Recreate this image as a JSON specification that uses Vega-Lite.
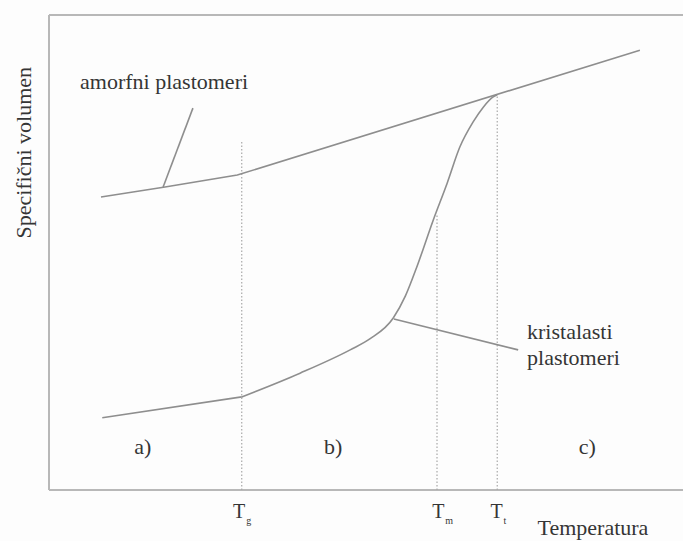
{
  "$schema": "https://vega.github.io/schema/vega-lite/v6.json",
  "width": 634,
  "height": 475,
  "autosize": {"type": "none"},
  "padding": {"left": 49, "top": 15, "right": 0, "bottom": 51},
  "background": "#fdfdfd",
  "config": {"view": {"stroke": null}, "text": {"font": "Liberation Serif", "color": "#353535"}},
  "datasets": {
    "straight": [
      {"series": "amorfni", "t": 8.2, "v": 61.7},
      {"series": "amorfni", "t": 18.3, "v": 63.8},
      {"series": "amorfni", "t": 29.7, "v": 66.3},
      {"series": "amorfni", "t": 93.2, "v": 92.6},
      {"series": "kristalasti_staklasto", "t": 8.4, "v": 15.2},
      {"series": "kristalasti_staklasto", "t": 30.4, "v": 19.6},
      {"series": "leader_a", "t": 18.0, "v": 63.8},
      {"series": "leader_a", "t": 22.7, "v": 80.4},
      {"series": "leader_k", "t": 54.4, "v": 36.0},
      {"series": "leader_k", "t": 74.0, "v": 29.5}
    ],
    "melt": [
      {"t": 30.4, "v": 19.6},
      {"t": 39.6, "v": 24.6},
      {"t": 47.5, "v": 29.5},
      {"t": 50.6, "v": 31.8},
      {"t": 54.3, "v": 36.2},
      {"t": 56.2, "v": 40.8},
      {"t": 58.0, "v": 46.9},
      {"t": 60.6, "v": 56.8},
      {"t": 62.8, "v": 64.6},
      {"t": 64.8, "v": 72.2},
      {"t": 66.9, "v": 77.5},
      {"t": 68.5, "v": 80.6},
      {"t": 70.0, "v": 82.7},
      {"t": 70.7, "v": 83.2}
    ],
    "verticals": [
      {"name": "Tg", "t": 30.4, "v0": 0, "v1": 73.3},
      {"name": "Tm", "t": 61.2, "v0": 0, "v1": 57.9},
      {"name": "Tt", "t": 70.7, "v0": 0, "v1": 83.2}
    ],
    "frame": [
      {"t0": 0, "t1": 100, "v0": 100, "v1": 100},
      {"t0": 0, "t1": 100, "v0": 0, "v1": 0},
      {"t0": 0, "t1": 0, "v0": 0, "v1": 100}
    ],
    "leftlabels": [
      {"label": "amorfni plastomeri", "t": 4.9, "v": 85.9},
      {"label": "kristalasti", "t": 75.4, "v": 33.3},
      {"label": "plastomeri", "t": 75.4, "v": 27.8}
    ],
    "centerlabels": [
      {"label": "a)", "t": 14.8, "v": 9.1},
      {"label": "b)", "t": 44.8, "v": 9.1},
      {"label": "c)", "t": 84.9, "v": 9.1},
      {"label": "Temperatura", "t": 85.8, "v": -8.0}
    ],
    "ticks": [
      {"label": "T", "t": 30.0, "v": -4.6},
      {"label": "T", "t": 61.4, "v": -4.6},
      {"label": "T", "t": 70.6, "v": -4.6}
    ],
    "subs": [
      {"label": "g", "t": 31.5, "v": -6.6},
      {"label": "m", "t": 63.1, "v": -6.6},
      {"label": "t", "t": 71.9, "v": -6.6}
    ],
    "ytitle": [
      {"label": "Specifični volumen", "t": -3.9, "v": 71.0}
    ]
  },
  "layer": [
    {
      "data": {"name": "frame"},
      "mark": {"type": "rule", "color": "#b8b8b8", "strokeWidth": 2},
      "encoding": {
        "x": {"field": "t0", "type": "quantitative", "scale": {"domain": [0, 100], "nice": false, "zero": false}, "axis": null},
        "x2": {"field": "t1"},
        "y": {"field": "v0", "type": "quantitative", "scale": {"domain": [0, 100], "nice": false, "zero": false}, "axis": null},
        "y2": {"field": "v1"}
      }
    },
    {
      "data": {"name": "verticals"},
      "mark": {"type": "rule", "color": "#a8a8a8", "strokeWidth": 1.2, "strokeDash": [1.5, 2]},
      "encoding": {
        "x": {"field": "t", "type": "quantitative"},
        "y": {"field": "v0", "type": "quantitative"},
        "y2": {"field": "v1"}
      }
    },
    {
      "data": {"name": "straight"},
      "mark": {"type": "line", "color": "#8e8e8e", "strokeWidth": 1.6},
      "encoding": {
        "x": {"field": "t", "type": "quantitative"},
        "y": {"field": "v", "type": "quantitative"},
        "detail": {"field": "series"},
        "order": {"field": "t"}
      }
    },
    {
      "data": {"name": "melt"},
      "mark": {"type": "line", "color": "#8e8e8e", "strokeWidth": 1.6, "interpolate": "monotone"},
      "encoding": {
        "x": {"field": "t", "type": "quantitative"},
        "y": {"field": "v", "type": "quantitative"},
        "order": {"field": "t"}
      }
    },
    {
      "data": {"name": "leftlabels"},
      "mark": {"type": "text", "fontSize": 22, "baseline": "middle", "align": "left"},
      "encoding": {
        "x": {"field": "t", "type": "quantitative"},
        "y": {"field": "v", "type": "quantitative"},
        "text": {"field": "label"}
      }
    },
    {
      "data": {"name": "centerlabels"},
      "mark": {"type": "text", "fontSize": 22, "baseline": "middle", "align": "center"},
      "encoding": {
        "x": {"field": "t", "type": "quantitative"},
        "y": {"field": "v", "type": "quantitative"},
        "text": {"field": "label"}
      }
    },
    {
      "data": {"name": "ticks"},
      "mark": {"type": "text", "fontSize": 20, "baseline": "middle", "align": "center"},
      "encoding": {
        "x": {"field": "t", "type": "quantitative"},
        "y": {"field": "v", "type": "quantitative"},
        "text": {"field": "label"}
      }
    },
    {
      "data": {"name": "subs"},
      "mark": {"type": "text", "fontSize": 10, "baseline": "middle", "align": "center"},
      "encoding": {
        "x": {"field": "t", "type": "quantitative"},
        "y": {"field": "v", "type": "quantitative"},
        "text": {"field": "label"}
      }
    },
    {
      "data": {"name": "ytitle"},
      "mark": {"type": "text", "fontSize": 22, "baseline": "middle", "align": "center", "angle": 270},
      "encoding": {
        "x": {"field": "t", "type": "quantitative"},
        "y": {"field": "v", "type": "quantitative"},
        "text": {"field": "label"}
      }
    }
  ]
}
